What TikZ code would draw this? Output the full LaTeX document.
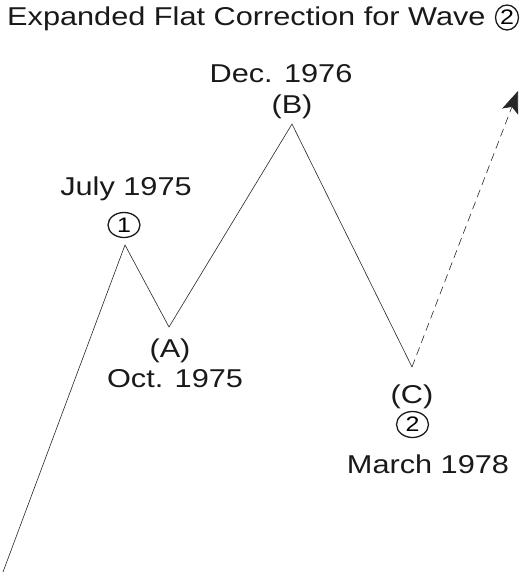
\documentclass[tikz,border=0pt]{standalone}
\usepackage{fontspec}
\setmainfont{Liberation Sans}[FakeStretch=1.19]
\usetikzlibrary{arrows.meta,shapes.geometric}
\begin{document}
\begin{tikzpicture}[x=1pt,y=-1pt,font=\fontsize{25.8}{30}\selectfont,
  lab/.style={anchor=base,inner sep=0pt,text=black!90},
  circnum/.style={ellipse,draw=black!90,line width=1.3pt,inner sep=0pt,
    minimum width=32pt,minimum height=25pt,font=\fontsize{21}{23}\selectfont},
  wave/.style={line width=.6pt,black!85}]
  \useasboundingbox (0,0) rectangle (524,574);
  % title
  \node[lab,anchor=base west] (title) at (7,25) {Expanded Flat Correction for Wave};
  \node[circnum,minimum width=23pt,minimum height=25pt] (t2) at (507,17.5) {2};
  % turning points
  \coordinate (w0) at (3,572);
  \coordinate (w1) at (125,245);
  \coordinate (wA) at (169,327);
  \coordinate (wB) at (292,124);
  \coordinate (wC) at (412,367);
  \coordinate (tip) at (518,91);
  \draw[wave] (w0) -- (w1) -- (wA) -- (wB) -- (wC);
  \draw[wave,dash pattern=on 8pt off 5pt,
    -{Stealth[length=22pt,width=17pt,inset=5pt]}] (wC) -- (tip);
  % labels
  \foreach \nm/\x/\y/\txt in {jul/126/195/{July 1975},dec/281/82/{Dec. 1976},
    labB/292/113/{(B)},labA/170/357/{(A)},oct/175/387/{Oct. 1975},
    labC/412/403/{(C)},mar/428/473/{March 1978}}
    \node[lab] (\nm) at (\x,\y) {\txt};
  \node[circnum] (c1) at (124,225) {1};
  \node[circnum,minimum height=26pt] (c2) at (412.5,424.5) {2};
\end{tikzpicture}
\end{document}
